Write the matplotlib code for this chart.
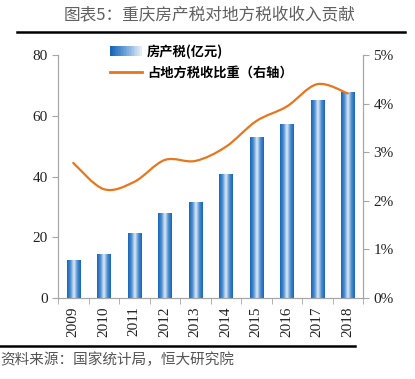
import numpy as np
import matplotlib
matplotlib.use("Agg")
import matplotlib.pyplot as plt
from matplotlib.colors import LinearSegmentedColormap
from matplotlib.patches import Rectangle, PathPatch
from matplotlib.path import Path
from matplotlib.legend_handler import HandlerBase
from matplotlib.lines import Line2D
from matplotlib.ticker import FuncFormatter

years = ["2009", "2010", "2011", "2012", "2013", "2014", "2015", "2016", "2017", "2018"]
tax = [12.2, 14.2, 21.1, 27.8, 31.6, 40.5, 52.7, 57.0, 64.9, 67.5]
share = [2.78, 2.24, 2.39, 2.84, 2.82, 3.11, 3.64, 3.94, 4.40, 4.21]

cjk = ["Noto Sans CJK SC", "DejaVu Sans"]
serif = "Liberation Serif"
grey = "#a6a6a6"
orange = "#e8761c"
bar_cmap = LinearSegmentedColormap.from_list("bar", ["#1565b9", "#4f8fd0", "#e2ecf6", "#4f8fd0", "#1565b9"])
leg_cmap = LinearSegmentedColormap.from_list("leg", ["#1565b9", "#6fa3d8", "#e4edf7"])


class GradHandler(HandlerBase):
    def create_artists(self, legend, orig, xd, yd, w, h, fs, trans):
        n = 20
        arts = []
        for i in range(n):
            r = Rectangle((xd + w * i / n, yd), w / n + 0.3, h,
                          facecolor=leg_cmap(i / (n - 1)), edgecolor="none", transform=trans)
            arts.append(r)
        return arts


def smooth_path(x, y):
    # catmull-rom style smoothing through the points
    x = np.asarray(x, float)
    y = np.asarray(y, float)
    verts = [(x[0], y[0])]
    codes = [Path.MOVETO]
    n = len(x)
    for i in range(n - 1):
        p0 = i - 1 if i > 0 else i
        p3 = i + 2 if i + 2 < n else i + 1
        c1 = (x[i] + (x[i + 1] - x[p0]) / 6, y[i] + (y[i + 1] - y[p0]) / 6)
        c2 = (x[i + 1] - (x[p3] - x[i]) / 6, y[i + 1] - (y[p3] - y[i]) / 6)
        verts += [c1, c2, (x[i + 1], y[i + 1])]
        codes += [Path.CURVE4] * 3
    return Path(verts, codes)


fig = plt.figure(figsize=(4.15, 3.79), dpi=100)
ax = fig.add_axes([58 / 415, 1 - 298 / 379, 305 / 415, 243 / 379])
ax2 = ax.twinx()

pos = np.arange(len(years))
bw = 0.43
grad = np.linspace(0, 1, 64).reshape(1, -1)
for x, v in zip(pos, tax):
    ax.imshow(grad, extent=[x - bw / 2, x + bw / 2, 0, v], aspect="auto",
              cmap=bar_cmap, zorder=2, interpolation="bilinear")

ax2.add_patch(PathPatch(smooth_path(pos, share), fill=False, edgecolor=orange,
                        linewidth=1.6, capstyle="round"))

ax.set_xlim(-0.5, len(years) - 0.5)
ax.set_ylim(0, 80)
ax2.set_ylim(0, 5)
ax.set_yticks([0, 20, 40, 60, 80])
ax2.set_yticks([0, 1, 2, 3, 4, 5])
ax2.yaxis.set_major_formatter(FuncFormatter(lambda v, p: "%d%%" % v))
ax.set_xticks(pos)
ax.set_xticklabels(years, rotation=90)
ax.set_xticks(np.arange(-0.5, len(years)), minor=True)
ax.tick_params(axis="x", which="major", length=0, pad=6)
ax.tick_params(axis="x", which="minor", length=4, color=grey, direction="out")

for a in (ax, ax2):
    for s in a.spines.values():
        s.set_color(grey)
    a.spines["top"].set_visible(False)
    a.tick_params(axis="y", length=4, color=grey, direction="out")
    for lab in a.get_xticklabels() + a.get_yticklabels():
        lab.set_fontfamily(serif)
        lab.set_fontsize(11)
        lab.set_color("#222222")

handles = [Rectangle((0, 0), 1, 1), Line2D([], [], color=orange, linewidth=2)]
labels = ["房产税(亿元)", "占地方税收比重（右轴）"]
leg = ax2.legend(handles, labels, handler_map={Rectangle: GradHandler()},
                 loc="upper left", bbox_to_anchor=(110 / 415, 1 - 45 / 379),
                 bbox_transform=fig.transFigure, frameon=False,
                 prop={"family": cjk, "size": 9.5, "weight": "bold"},
                 handlelength=2.4, handleheight=0.8, handletextpad=0.4,
                 labelspacing=0.5, borderaxespad=0, borderpad=0)

fig.text(210 / 415, 1 - 15 / 379, "图表5：重庆房产税对地方税收收入贡献", ha="center", va="center",
         fontsize=12, color="#606060", family=cjk)
fig.add_artist(Line2D([17 / 415, 405 / 415], [1 - 32 / 379, 1 - 32 / 379], color="black", linewidth=1.8))
fig.add_artist(Line2D([0, 355 / 415], [1 - 346 / 379, 1 - 346 / 379], color="black", linewidth=1.8))
fig.text(0, 1 - 360 / 379, "资料来源：国家统计局，恒大研究院", ha="left", va="center",
         fontsize=10.5, color="#555555", family=cjk)

fig.savefig("out.png", dpi=100)
